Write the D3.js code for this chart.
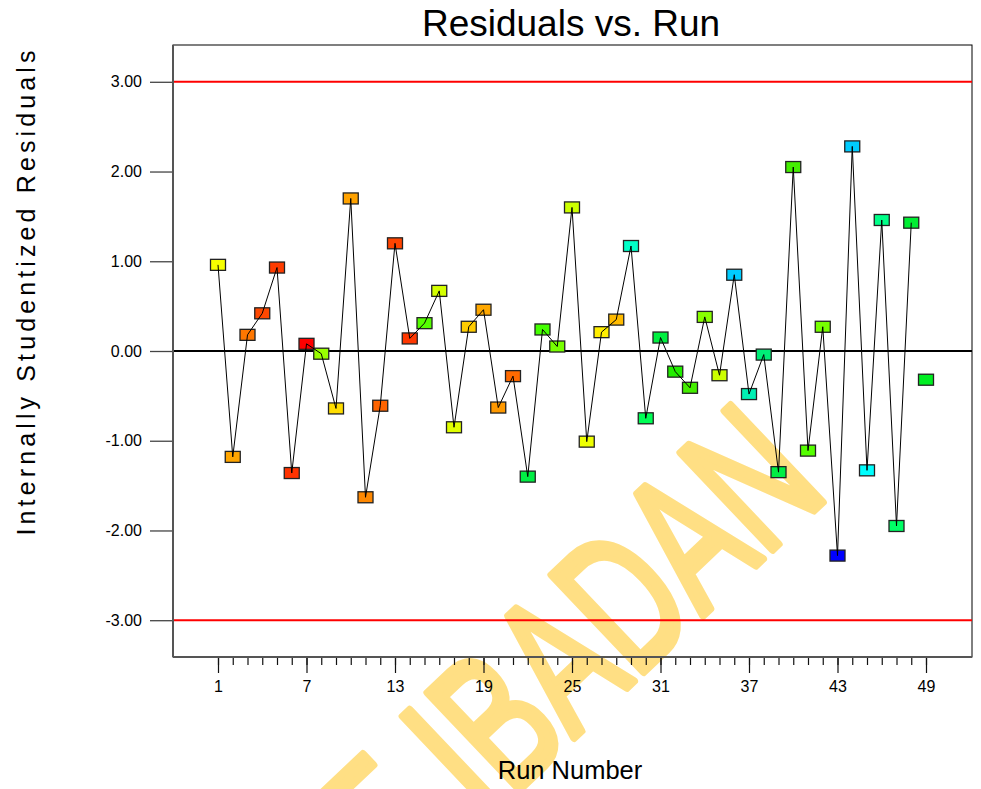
<!DOCTYPE html>
<html>
<head>
<meta charset="utf-8">
<script src="https://cdn.jsdelivr.net/npm/d3@7"></script>
<style>
  body { margin: 0; background: #fff; }
  svg { display: block; font-family: Arial, "Liberation Sans", sans-serif; }
</style>
</head>
<body>
<svg id="chart" width="981" height="789"></svg>
<script>
// Run order 1..49 and the internally studentized residual of each run
const runs = d3.range(1, 50);
const residuals = [
  0.96, -1.18, 0.18, 0.42, 0.93, -1.36, 0.08, -0.03, -0.64, 1.70,
  -1.63, -0.61, 1.20, 0.14, 0.31, 0.67, -0.85, 0.27, 0.46, -0.63,
  -0.28, -1.40, 0.24, 0.05, 1.60, -1.01, 0.21, 0.35, 1.17, -0.75,
  0.15, -0.23, -0.41, 0.38, -0.27, 0.85, -0.48, -0.04, -1.35, 2.05,
  -1.11, 0.27, -2.28, 2.28, -1.33, 1.46, -1.95, 1.43, -0.32
];
// Point colours (response colour scale, red = high, blue = low)
const pointColors = [
  "#F6FF00", "#FFA500", "#FF7700", "#FF4800", "#FF3C00", "#FF3300", "#FF0000", "#99FF00", "#FFDD00", "#FFA200",
  "#FF8800", "#FF6400", "#FF4400", "#FF3800", "#55FF00", "#D4FF00", "#E0FF00", "#FFCC00", "#FFA800", "#FF9900",
  "#FF6A00", "#00EE44", "#44FF00", "#77FF00", "#CCFF00", "#EEFF00", "#FFEE00", "#FFBB00", "#00FFC8", "#00FF55",
  "#00F040", "#22EE00", "#44EE00", "#88FF00", "#CCFF00", "#00CCFF", "#00F0B4", "#00EE77", "#00EE44", "#44EE00",
  "#55FF00", "#77FF00", "#0000FF", "#00CCFF", "#00FFFF", "#00FF88", "#00FF66", "#00EE33", "#00EE22"
];
// Runs joined by the trace line (the last run stands alone)
const tracedRuns = 48;
const yTicks = [-3, -2, -1, 0, 1, 2, 3];
const xTicks = [1, 7, 13, 19, 25, 31, 37, 43, 49];
const limitLines = [-3, 3];

const svg = d3.select("#chart");
const plot = { left: 173, right: 972, top: 45, bottom: 657 };

const x = d3.scaleLinear().domain([1, 49]).range([218, 926]);
const y = d3.scaleLinear().domain([-3.41, 3.41]).range([plot.bottom, plot.top]);

// Watermark behind the chart
svg.append("text")
  .attr("transform", "translate(831,494) rotate(-43.5) scale(0.66,1)")
  .attr("text-anchor", "end")
  .attr("font-size", 194)
  .attr("fill", "#FFDF84")
  .attr("stroke", "#FFDF84")
  .attr("stroke-width", 8)
  .attr("stroke-linejoin", "round")
  .attr("stroke-linecap", "round")
  .text("OF IBADAN");

// Plot frame
svg.append("rect")
  .attr("x", plot.left).attr("y", plot.top)
  .attr("width", plot.right - plot.left).attr("height", plot.bottom - plot.top)
  .attr("fill", "none").attr("stroke", "#000").attr("stroke-width", 1);

// Y axis
const yAxis = svg.append("g")
  .attr("transform", `translate(${plot.left},0)`)
  .call(d3.axisLeft(y).tickValues(yTicks).tickSize(23).tickPadding(8)
        .tickFormat(d => d.toFixed(2)));
yAxis.select(".domain").remove();
yAxis.selectAll(".tick line").attr("stroke", "#444").attr("stroke-width", 1.3);
yAxis.selectAll(".tick text").attr("font-size", 16).attr("fill", "#000")
  .attr("font-family", "Arial, 'Liberation Sans', sans-serif");

// X axis: a small tick at every run, long labelled ticks every sixth run
const xMinor = svg.append("g")
  .attr("transform", `translate(0,${plot.bottom})`)
  .call(d3.axisBottom(x).tickValues(runs).tickSize(8).tickFormat(""));
xMinor.select(".domain").remove();
xMinor.selectAll(".tick line").attr("stroke", "#111").attr("stroke-width", 1.2);

const xMajor = svg.append("g")
  .attr("transform", `translate(0,${plot.bottom})`)
  .call(d3.axisBottom(x).tickValues(xTicks).tickSize(16).tickPadding(8));
xMajor.select(".domain").remove();
xMajor.selectAll(".tick line").attr("stroke", "#111").attr("stroke-width", 1.2);
xMajor.selectAll(".tick text").attr("font-size", 16).attr("fill", "#000")
  .attr("font-family", "Arial, 'Liberation Sans', sans-serif");

// Left and bottom axis lines
svg.append("line").attr("x1", plot.left).attr("x2", plot.left)
  .attr("y1", plot.top).attr("y2", plot.bottom)
  .attr("stroke", "#555").attr("stroke-width", 2);
svg.append("line").attr("x1", plot.left).attr("x2", plot.right)
  .attr("y1", plot.bottom).attr("y2", plot.bottom)
  .attr("stroke", "#555").attr("stroke-width", 2);

// Outlier limits and the zero line
svg.selectAll(".limit").data(limitLines).join("line")
  .attr("class", "limit")
  .attr("x1", plot.left + 1).attr("x2", plot.right)
  .attr("y1", d => y(d)).attr("y2", d => y(d))
  .attr("stroke", "#FF0000").attr("stroke-width", 2);
svg.append("line")
  .attr("x1", plot.left + 1).attr("x2", plot.right)
  .attr("y1", y(0)).attr("y2", y(0))
  .attr("stroke", "#000").attr("stroke-width", 2.2);

// Residual markers
const points = runs.map((r, i) => ({ run: r, value: residuals[i], color: pointColors[i] }));
const boxW = 15, boxH = 11;
svg.selectAll(".pt").data(points).join("rect")
  .attr("class", "pt")
  .attr("x", d => x(d.run) - boxW / 2)
  .attr("y", d => y(d.value) - boxH / 2)
  .attr("width", boxW).attr("height", boxH)
  .attr("fill", d => d.color)
  .attr("stroke", "#222").attr("stroke-width", 1.3);

// Run-order trace drawn over the markers
svg.append("path")
  .datum(points.slice(0, tracedRuns))
  .attr("fill", "none").attr("stroke", "#000").attr("stroke-width", 1)
  .attr("d", d3.line().x(d => x(d.run)).y(d => y(d.value)));

// Titles
svg.append("text")
  .attr("x", 571).attr("y", 36)
  .attr("text-anchor", "middle").attr("font-size", 37)
  .text("Residuals vs. Run");
svg.append("text")
  .attr("x", 570).attr("y", 779)
  .attr("text-anchor", "middle").attr("font-size", 25.5)
  .text("Run Number");
svg.append("text")
  .attr("transform", "translate(35,293) rotate(-90)")
  .attr("text-anchor", "middle").attr("font-size", 25)
  .attr("textLength", 485).attr("lengthAdjust", "spacing")
  .text("Internally Studentized Residuals");
</script>
</body>
</html>
